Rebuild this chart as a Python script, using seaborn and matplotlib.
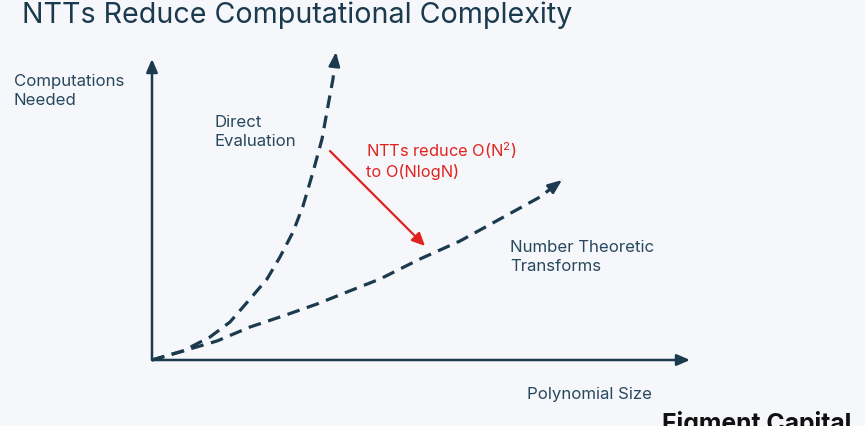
import matplotlib
matplotlib.use("Agg")
import matplotlib.pyplot as plt
import seaborn as sns
import pandas as pd

# ---- data (conceptual units: x = polynomial size, y = computations) ----
direct_x = [0, 5.76, 10.78, 14.50, 18.22, 21.38, 23.79, 26.21, 28.07, 29.93,
            31.60, 32.71, 33.64, 34.20]
direct_y = [0, 2.99, 7.64, 12.62, 20.27, 26.91, 34.22, 42.52, 51.16, 62.46,
            73.42, 84.39, 93.36, 102.33]
ntt_x = [0, 5.76, 12.08, 18.22, 24.35, 30.67, 36.25, 42.38, 49.81, 57.25,
         64.68, 72.12, 76.21]
ntt_y = [0, 2.99, 6.31, 10.96, 14.62, 18.60, 22.59, 26.91, 33.55, 39.53,
         46.84, 54.15, 59.80]
series_names = ["Direct Evaluation", "Number Theoretic Transforms"]

title = "NTTs Reduce Computational Complexity"
y_label = ["Computations", "Needed"]
direct_label = ["Direct", "Evaluation"]
ntt_label = ["Number Theoretic", "Transforms"]
note = ["NTTs reduce O(N$^2$)", "to O(NlogN)"]
x_label = "Polynomial Size"
brand = "Figment Capital"

BG = "#f5f7fa"
NAVY = "#1b3a4e"
TXT = "#28485d"
RED = "#e0231f"

sns.set_theme(style="white")
plt.rcParams["font.family"] = ["Inter", "DejaVu Sans"]
plt.rcParams["mathtext.default"] = "regular"

W, H = 865, 427
fig = plt.figure(figsize=(W / 100, H / 100), dpi=100, facecolor=BG)

def fx(px):
    return px / W

def fy(py):
    return 1 - py / H

# axes: origin at (152,361), x-arrow end 690, y-arrow top 60
ax = fig.add_axes([fx(152), fy(361), fx(690 - 152), (361 - 60) / H])
ax.set_facecolor("none")
ax.set_xlim(0, 100)
ax.set_ylim(0, 100)
for s in ax.spines.values():
    s.set_visible(False)
ax.set_xticks([])
ax.set_yticks([])

df = pd.concat([
    pd.DataFrame({"x": direct_x, "y": direct_y, "series": series_names[0]}),
    pd.DataFrame({"x": ntt_x, "y": ntt_y, "series": series_names[1]}),
])
sns.lineplot(data=df, x="x", y="y", units="series", estimator=None, sort=False,
             color=NAVY, linewidth=2.3, ax=ax, legend=False)
ax.set_xlabel("")
ax.set_ylabel("")
for line in ax.lines:
    line.set_linestyle((0, (4, 2.4)))
    line.set_clip_on(False)
    line.set_dash_capstyle("butt")

# arrowheads on curve ends
for xs, ys in [(direct_x, direct_y), (ntt_x, ntt_y)]:
    ax.annotate("", xy=(xs[-1], ys[-1]),
                xytext=(xs[-2] + (xs[-1] - xs[-2]) * 0.6,
                        ys[-2] + (ys[-1] - ys[-2]) * 0.6),
                arrowprops=dict(arrowstyle="-|>,head_length=0.7,head_width=0.28",
                                color=NAVY, lw=1.8, mutation_scale=12,
                                shrinkA=0, shrinkB=0),
                annotation_clip=False)

# axis arrows
for tip in [(0, 1), (1, 0)]:
    ax.annotate("", xy=tip, xytext=(0, 0), xycoords="axes fraction",
                arrowprops=dict(arrowstyle="-|>,head_length=0.6,head_width=0.26",
                                color=NAVY, lw=1.8, mutation_scale=13,
                                shrinkA=0, shrinkB=0),
                annotation_clip=False)

# red arrow (between curves)
ax.annotate("", xy=((425 - 152) / 538 * 100, (361 - 247) / 301 * 100),
            xytext=((330 - 152) / 538 * 100, (361 - 152) / 301 * 100),
            arrowprops=dict(arrowstyle="-|>,head_length=0.6,head_width=0.28",
                            color=RED, lw=1.6, mutation_scale=13,
                            shrinkA=0, shrinkB=0),
            annotation_clip=False)

def lines_at(x, baselines, texts, size, color, weight="normal"):
    for b, t in zip(baselines, texts):
        fig.text(fx(x), fy(b), t, fontsize=size, color=color, va="baseline",
                 ha="left", fontweight=weight)

# texts
fig.text(fx(22), fy(23), title, fontsize=20.6, color=NAVY, va="baseline",
         ha="left")
lines_at(14, [86, 105], y_label, 12.1, TXT)
lines_at(214, [127, 146], direct_label, 12.1, TXT)
lines_at(510, [252, 271], ntt_label, 12.1, TXT)
lines_at(366, [157, 177], note, 11.8, RED)
lines_at(527, [399], [x_label], 12.1, TXT)
lines_at(662, [431], [brand], 17.8, "#111111", weight="bold")

fig.savefig("out.png", dpi=100, facecolor=BG)
